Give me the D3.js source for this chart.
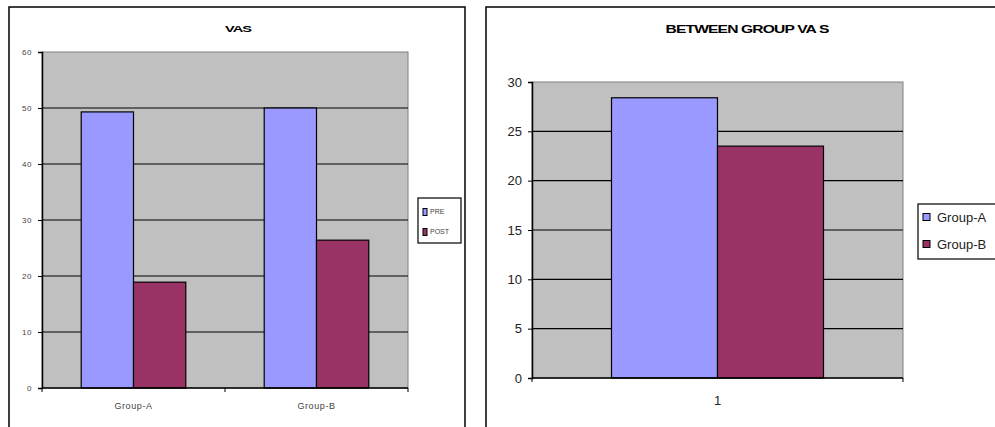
<!DOCTYPE html>
<html>
<head>
<meta charset="utf-8">
<script src="https://cdn.jsdelivr.net/npm/d3@7"></script>
<style>
    body { margin: 0; background: #fff; }
    svg { display: block; font-family: "Liberation Sans", Arial, sans-serif; }
</style>
</head>
<body>
<div id="chart"></div>
<script>

// left chart: VAS pre / post per group
let vasGroups = ["Group-A", "Group-B"];
let vasSeries = ["PRE", "POST"];
let vasPre = [49.3, 50];
let vasPost = [18.9, 26.4];
let vasTicks = [0, 10, 20, 30, 40, 50, 60];

// right chart: between group VAS
let betweenCats = ["1"];
let betweenSeries = ["Group-A", "Group-B"];
let betweenValues = [[28.4], [23.5]];   // one row per series
let betweenTicks = [0, 5, 10, 15, 20, 25, 30];

let colors = ["#9999ff", "#993366"];

let svg = d3.select("#chart").append("svg")
    .attr("width", 995)
    .attr("height", 427);

function drawChart(cfg) {

    let g = svg.append("g");

    // outer chart border
    g.append("rect")
        .attr("x", cfg.frame[0]).attr("y", cfg.frame[1])
        .attr("width", cfg.frame[2]).attr("height", cfg.frame[3])
        .attr("fill", "#fff").attr("stroke", "#000").attr("stroke-width", 1.5);

    // title
    g.append("text")
        .attr("x", cfg.titleX).attr("y", cfg.titleY)
        .attr("text-anchor", "middle")
        .attr("font-size", cfg.titleSize)
        .attr("font-weight", "bold")
        .attr("letter-spacing", -0.6)
        .attr("textLength", cfg.titleLen)
        .attr("lengthAdjust", "spacingAndGlyphs")
        .text(cfg.title);

    let x0 = d3.scaleBand()
        .domain(cfg.categories)
        .range([cfg.left, cfg.right]);

    let x1 = d3.scaleBand()
        .domain(cfg.series)
        .range([0, x0.bandwidth()])
        .paddingInner(0)
        .paddingOuter(0.75);

    let y = d3.scaleLinear()
        .domain([0, d3.max(cfg.ticks)])
        .range([cfg.bottom, cfg.top]);

    // plot area
    g.append("rect")
        .attr("x", cfg.left).attr("y", cfg.top)
        .attr("width", cfg.right - cfg.left).attr("height", cfg.bottom - cfg.top)
        .attr("fill", "#c0c0c0").attr("stroke", "#808080").attr("stroke-width", 1);

    // gridlines
    g.selectAll(".grid")
        .data(cfg.ticks.filter(d => d > 0 && d < d3.max(cfg.ticks)))
        .enter().append("line")
        .attr("x1", cfg.left).attr("x2", cfg.right)
        .attr("y1", d => y(d)).attr("y2", d => y(d))
        .attr("stroke", "#000").attr("stroke-width", 1.2);

    // bars
    cfg.series.forEach(function(s, i) {
        g.selectAll(".bar" + i)
            .data(cfg.categories)
            .enter().append("rect")
            .attr("x", d => x0(d) + x1(s))
            .attr("y", (d, j) => y(cfg.values[i][j]))
            .attr("width", x1.bandwidth())
            .attr("height", (d, j) => cfg.bottom - y(cfg.values[i][j]))
            .attr("fill", colors[i])
            .attr("stroke", "#000")
            .attr("stroke-width", 1.2);
    });

    // y axis
    let yAxis = d3.axisLeft(y).tickValues(cfg.ticks).tickSize(4).tickPadding(cfg.tickPad);
    let ya = g.append("g")
        .attr("transform", "translate(" + cfg.left + ",0)")
        .call(yAxis);
    ya.select(".domain").attr("stroke-width", 1.5);
    ya.selectAll("text")
        .attr("font-family", "Liberation Sans, Arial, sans-serif")
        .attr("font-size", cfg.tickSize)
        .attr("letter-spacing", cfg.tickSpacing)
        .attr("fill", cfg.tickColor);

    // x axis: tick marks at category edges
    let xa = g.append("g")
        .attr("transform", "translate(0," + cfg.bottom + ")");
    xa.append("line")
        .attr("x1", cfg.left).attr("x2", cfg.right)
        .attr("stroke", "#000").attr("stroke-width", 1.5);
    let edges = cfg.categories.map(d => x0(d)).concat([cfg.right]);
    xa.selectAll(".xt")
        .data(edges)
        .enter().append("line")
        .attr("x1", d => d).attr("x2", d => d)
        .attr("y1", 0).attr("y2", 4)
        .attr("stroke", "#000");
    xa.selectAll(".xl")
        .data(cfg.categories)
        .enter().append("text")
        .attr("x", d => x0(d) + x0.bandwidth() / 2)
        .attr("y", cfg.xLabelDy)
        .attr("text-anchor", "middle")
        .attr("font-size", cfg.xLabelSize)
        .attr("letter-spacing", cfg.tickSpacing)
        .attr("fill", cfg.tickColor)
        .text(d => d);

    // legend
    let lg = cfg.legend;
    g.append("rect")
        .attr("x", lg.x).attr("y", lg.y)
        .attr("width", lg.w).attr("height", lg.h)
        .attr("fill", "#fff").attr("stroke", "#000").attr("stroke-width", 1.2);
    cfg.series.forEach(function(s, i) {
        let cy = lg.y + lg.first + i * lg.step;
        g.append("rect")
            .attr("x", lg.x + 5).attr("y", cy - lg.sh / 2)
            .attr("width", lg.sw).attr("height", lg.sh)
            .attr("fill", colors[i]).attr("stroke", "#000").attr("stroke-width", 1);
        g.append("text")
            .attr("x", lg.x + lg.tx)
            .attr("y", cy)
            .attr("dy", "0.35em")
            .attr("font-size", lg.size)
            .attr("fill", cfg.tickColor)
            .text(s);
    });
}

drawChart({
    frame: [9, 7, 456, 440],
    title: "VAS", titleX: 238, titleY: 32, titleSize: 9, titleLen: 26,
    categories: vasGroups, series: vasSeries, values: [vasPre, vasPost],
    ticks: vasTicks,
    left: 42, right: 408, top: 52, bottom: 388,
    tickSize: 8, tickSpacing: 0.6, tickPad: 6, tickColor: "#444",
    xLabelSize: 9, xLabelDy: 21,
    legend: {x: 418, y: 198, w: 43, h: 45, first: 14, step: 20, sw: 4, sh: 7, tx: 12, size: 7}
});

drawChart({
    frame: [486, 7, 520, 440],
    title: "BETWEEN GROUP VA S", titleX: 747, titleY: 33, titleSize: 11, titleLen: 163,
    categories: betweenCats, series: betweenSeries, values: betweenValues,
    ticks: betweenTicks,
    left: 532, right: 903, top: 82, bottom: 378,
    tickSize: 13, tickSpacing: 0, tickPad: 6, tickColor: "#222",
    xLabelSize: 13, xLabelDy: 27,
    legend: {x: 918, y: 204, w: 90, h: 55, first: 13, step: 27, sw: 7, sh: 7, tx: 19, size: 13}
});

</script>
</body>
</html>
